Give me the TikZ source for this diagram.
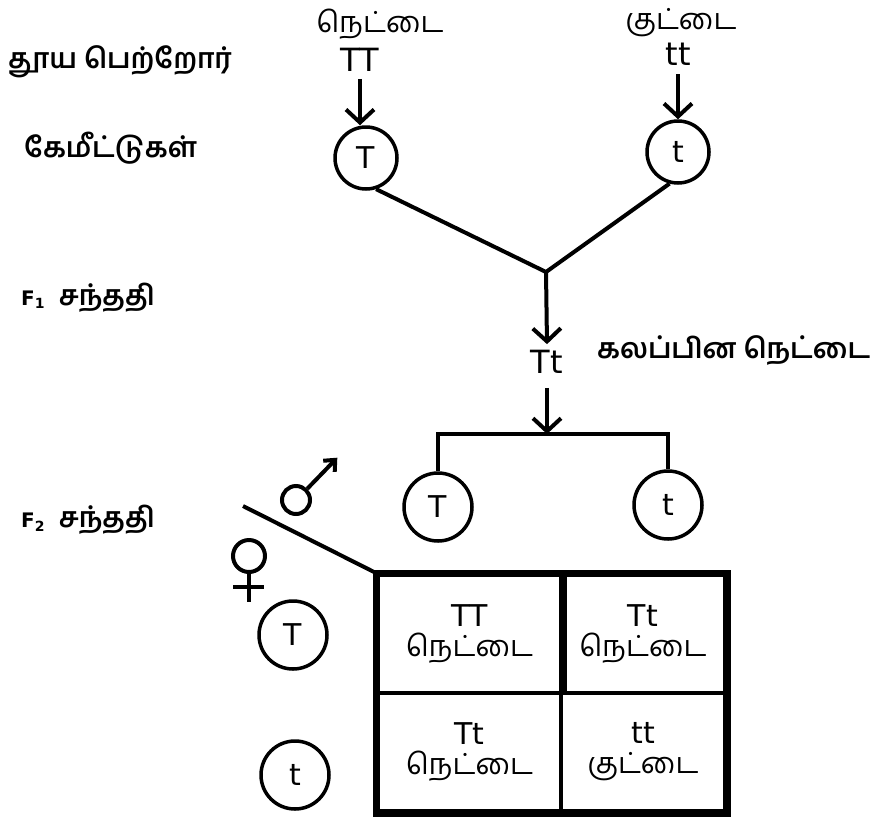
\documentclass[tikz,border=0pt]{standalone}
\usepackage{fontspec}
\setmainfont{DejaVu Sans}
\newfontfamily\tamil[Script=Tamil]{Hind Madurai}
\usetikzlibrary{arrows.meta,positioning}

\begin{document}
\begin{tikzpicture}[x=1pt, y=-1pt, >={Straight Barb[length=13pt,width=28pt]},
  lbl/.style  = {font=\tamil\bfseries\fontsize{28}{32}\selectfont, anchor=west, inner sep=0pt},
  tam/.style  = {font=\tamil\fontsize{29}{33}\selectfont, inner sep=0pt},
  gen/.style  = {font=\fontsize{32}{36}\selectfont, inner sep=0pt},
  gam/.style  = {draw, circle, line width=3.5pt, minimum size=62pt, inner sep=0pt,
                 font=\fontsize{30}{34}\selectfont},
  gamb/.style = {gam, minimum size=68pt},
  cell/.style = {draw, line width=4pt, minimum height=118pt, align=center,
                 font=\fontsize{30}{34}\selectfont},
  con/.style  = {line width=4pt},
  sym/.style  = {line width=4pt},
  ]

  \useasboundingbox (0,0) rectangle (872,817);

  % left hand labels
  \node [lbl]                 (pure)    at (8,62)   {தூய பெற்றோர்};
  \node [lbl]                 (gamete)  at (24,148) {கேமீட்டுகள்};
  \node [lbl]                 (fone)    at (21,298)
        {{\normalfont\bfseries\fontsize{20}{22}\selectfont F\textsubscript{1}}\ \ சந்ததி};
  \node [lbl]                 (ftwo)    at (21,520)
        {{\normalfont\bfseries\fontsize{20}{22}\selectfont F\textsubscript{2}}\ \ சந்ததி};

  % parents
  \node [tam]                 (tallname)  at (380,24) {நெட்டை};
  \node [gen]                 (TT)        at (360,60) {TT};
  \node [tam]                 (dwarfname) at (681,23) {குட்டை};
  \node [gen]                 (tt)        at (678,54) {tt};

  % gametes
  \node [gam]                 (gT)      at (366,158) {T};
  \node [gam]                 (gt)      at (678,152) {t};
  \coordinate                 (cross)   at (546,272);

  % F1
  \node [gen]                 (hyb)     at (547,362) {Tt};
  \node [lbl]                 (hybname) at (597,350) {கலப்பின நெட்டை};
  \coordinate                 (split)   at (547,434);

  % F2 gametes
  \node [gamb]                (mT)      at (438,507) {T};
  \node [gamb]                (mt)      at (668,505) {t};
  \node [gamb]                (fT)      at (293,635) {T};
  \node [gamb]                (ft)      at (295,775) {t};

  \path[draw,con,->] ([yshift=-7pt]TT.south) -- (TT.south |- gT.north);
  \path[draw,con,->] ([yshift=-9pt]tt.south) -- (tt.south |- gt.north);
  \draw[con] (gT.-72) -- (cross) -- (gt.-105);
  \draw[con,->] (cross) -- ([yshift=6pt]hyb.north);
  \draw[con,->] ([yshift=-14pt]hyb.south) -- (split);
  \draw[con] (mT) |- (split) -| (mt);

  % sex symbols
  \node [draw, sym, circle, minimum size=28pt, inner sep=0pt] (male) at (296,500) {};
  \draw[sym, -{Straight Barb[length=9pt,width=16pt]}] (male.45) -- ++(30,-31);
  \node [draw, sym, circle, minimum size=32pt, inner sep=0pt] (female) at (249,556) {};
  \coordinate (ffoot) at (249,602);
  \draw[sym] (female.south) -- (ffoot);
  \draw[sym] (233,587) -- (264,587);

  % Punnett square
  \node [cell, minimum width=183pt] (c11) at (469.5,634) {TT\\[-4pt]{\tamil\fontsize{29}{33}\selectfont நெட்டை}};
  \node [cell, minimum width=164pt] (c12) at (643,634)   {Tt\\[-4pt]{\tamil\fontsize{29}{33}\selectfont நெட்டை}};
  \node [cell, minimum width=183pt] (c21) at (469.5,752) {Tt\\[-4pt]{\tamil\fontsize{29}{33}\selectfont நெட்டை}};
  \node [cell, minimum width=164pt] (c22) at (643,752)   {tt\\[-4pt]{\tamil\fontsize{29}{33}\selectfont குட்டை}};
  \draw[line width=7pt] (c11.north west) rectangle (c22.south east);
  \draw[line width=7pt] (c11.north east) -- (c11.south east);
  \coordinate (slash) at (243,506);
  \draw[con] (slash) -- (c11.north west);
\end{tikzpicture}
\end{document}
